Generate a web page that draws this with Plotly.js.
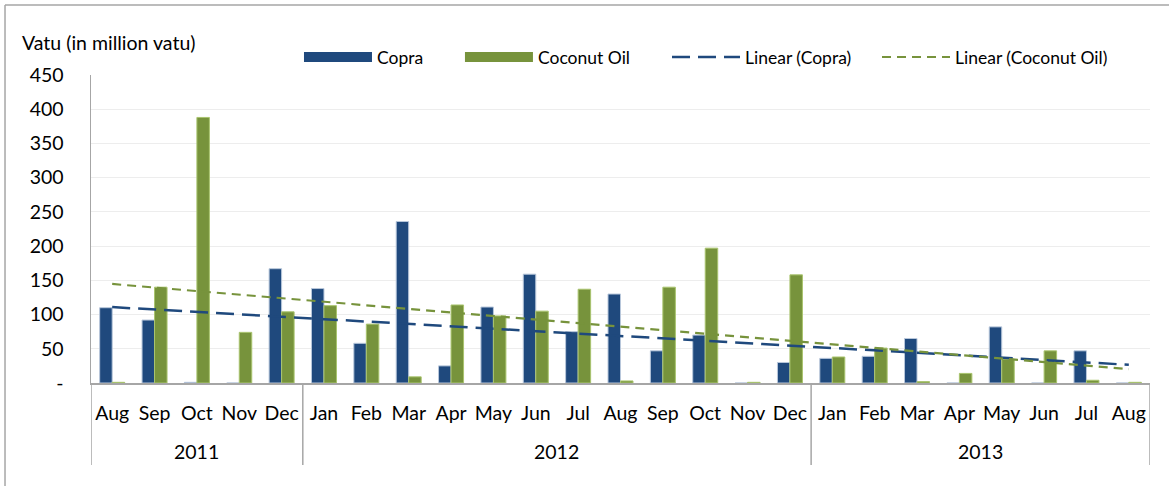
<!DOCTYPE html>
<html>
<head>
<meta charset="utf-8">
<script src="https://cdn.plot.ly/plotly-3.0.1.min.js"></script>
<style>
html,body{margin:0;padding:0;background:#fff;}
#chart{width:1169px;height:486px;}
</style>
</head>
<body>
<div id="chart"></div>
<script>
// ---- data ----
var years  = ['2011','2011','2011','2011','2011',
              '2012','2012','2012','2012','2012','2012','2012','2012','2012','2012','2012','2012',
              '2013','2013','2013','2013','2013','2013','2013','2013'];
var months = ['Aug','Sep','Oct','Nov','Dec',
              'Jan','Feb','Mar','Apr','May','Jun','Jul','Aug','Sep','Oct','Nov','Dec',
              'Jan','Feb','Mar','Apr','May','Jun','Jul','Aug'];
var copra  = [110, 92, 1, 0, 167, 138, 58, 236, 25, 111, 159, 75, 130, 47, 70, 0, 30, 36, 39, 65, 0, 82, 0, 47, 0];
var coconutOil = [1, 140, 388, 74, 104, 113, 86, 9, 114, 98, 105, 137, 3, 140, 197, 1, 158, 38, 51, 2, 14, 35, 47, 4, 1];
var yTickVals = [0, 50, 100, 150, 200, 250, 300, 350, 400, 450];
var yTickText = ['-', '50', '100', '150', '200', '250', '300', '350', '400', '450'];

// least-squares linear trend (as Excel "Linear" trendline)
function linearTrend(vals) {
  var n = vals.length, sx = 0, sy = 0, sxx = 0, sxy = 0;
  for (var i = 0; i < n; i++) { sx += i; sy += vals[i]; sxx += i * i; sxy += i * vals[i]; }
  var b = (n * sxy - sx * sy) / (n * sxx - sx * sx);
  var a = (sy - b * sx) / n;
  return vals.map(function (v, i) { return a + b * i; });
}

var idx = months.map(function (m, i) { return i; });
var FONT = 'Lato, "Open Sans", sans-serif';
var NAVY = '#1F497D', OLIVE = '#77933C';

// year groups (from the years array)
var groups = [];
years.forEach(function (y, i) {
  if (!groups.length || groups[groups.length - 1].year !== y) groups.push({year: y, start: i, end: i});
  else groups[groups.length - 1].end = i;
});

var annotations = [
  {text: 'Vatu (in million vatu)', xref: 'paper', yref: 'paper', x: -0.067, y: 1.104,
   xanchor: 'left', yanchor: 'middle', showarrow: false, font: {family: FONT, size: 19.5, color: '#000'}}
];
var shapes = [
  {type: 'line', xref: 'paper', yref: 'paper', x0: -0.0812, x1: -0.0812, y0: -0.4, y1: 1.227,
   line: {color: '#A6A6A6', width: 1.5}},
  {type: 'line', xref: 'paper', yref: 'paper', x0: -0.0812, x1: 1.05, y0: 1.227, y1: 1.227,
   line: {color: '#A6A6A6', width: 1.5}}
];
groups.forEach(function (g, k) {
  annotations.push({text: g.year, xref: 'x', yref: 'paper', x: (g.start + g.end) / 2, y: -0.224,
    xanchor: 'center', yanchor: 'middle', showarrow: false, font: {family: FONT, size: 19.5, color: '#000'}});
  if (k === 0) shapes.push({type: 'line', xref: 'x', yref: 'paper', x0: g.start - 0.5, x1: g.start - 0.5,
    y0: 0, y1: -0.266, line: {color: '#A6A6A6', width: 1.5}});
  shapes.push({type: 'line', xref: 'x', yref: 'paper', x0: g.end + 0.5, x1: g.end + 0.5,
    y0: 0, y1: -0.266, line: {color: '#A6A6A6', width: 1.5}});
});

var traces = [
  {type: 'bar', name: 'Copra', x: idx, y: copra, showlegend: false, legendgroup: 'c',
   marker: {color: NAVY, line: {color: '#B8C7DB', width: 1}}},
  {type: 'bar', name: 'Coconut Oil', x: idx, y: coconutOil, showlegend: false, legendgroup: 'o',
   marker: {color: OLIVE, line: {color: '#A9C46E', width: 1}}},
  {type: 'scatter', mode: 'lines', name: 'Copra', x: [null], y: [null], legendgroup: 'c', legend: 'legend',
   line: {color: NAVY, width: 10}},
  {type: 'scatter', mode: 'lines', name: 'Coconut Oil', x: [null], y: [null], legendgroup: 'o', legend: 'legend2',
   line: {color: OLIVE, width: 10}},
  {type: 'scatter', mode: 'lines', name: 'Linear (Copra)', x: idx, y: linearTrend(copra), legend: 'legend3',
   line: {color: NAVY, width: 2.5, dash: '18px,8px'}},
  {type: 'scatter', mode: 'lines', name: 'Linear (Coconut Oil)', x: idx, y: linearTrend(coconutOil), legend: 'legend4',
   line: {color: OLIVE, width: 2.2, dash: '9px,6px'}}
];

function legendAt(x) {
  return {orientation: 'h', x: x, xanchor: 'left', y: 1.058, yanchor: 'middle',
          font: {family: FONT, size: 17.5, color: '#000'}, itemwidth: 68,
          bgcolor: 'rgba(0,0,0,0)'};
}

var layout = {
  width: 1169, height: 486,
  margin: {l: 91, r: 19, t: 75, b: 103, pad: 0},
  paper_bgcolor: '#fff', plot_bgcolor: '#fff',
  font: {family: FONT, size: 19.5, color: '#000'},
  barmode: 'group', bargap: 0.41, bargroupgap: 0,
  showlegend: true,
  legend: legendAt(0.1964),
  legend2: legendAt(0.3484),
  legend3: legendAt(0.5439),
  legend4: legendAt(0.7422),
  xaxis: {range: [-0.5, months.length - 0.5], tickvals: idx, ticktext: months,
          showline: true, linecolor: '#A6A6A6', linewidth: 2, showgrid: false, zeroline: false,
          ticks: 'outside', ticklen: 12, tickcolor: 'rgba(0,0,0,0)',
          tickfont: {family: FONT, size: 19.5, color: '#000'}, automargin: false, fixedrange: true},
  yaxis: {range: [0, 450], tickvals: yTickVals, ticktext: yTickText,
          showline: true, linecolor: '#A6A6A6', linewidth: 1.5,
          showgrid: true, gridcolor: '#EDEDED', gridwidth: 1, zeroline: false,
          ticks: 'outside', ticklen: 22, tickcolor: 'rgba(0,0,0,0)',
          tickfont: {family: FONT, size: 19.5, color: '#000'}, automargin: false},
  annotations: annotations,
  shapes: shapes
};

Plotly.newPlot('chart', traces, layout, {displayModeBar: false, staticPlot: true});
</script>
</body>
</html>
